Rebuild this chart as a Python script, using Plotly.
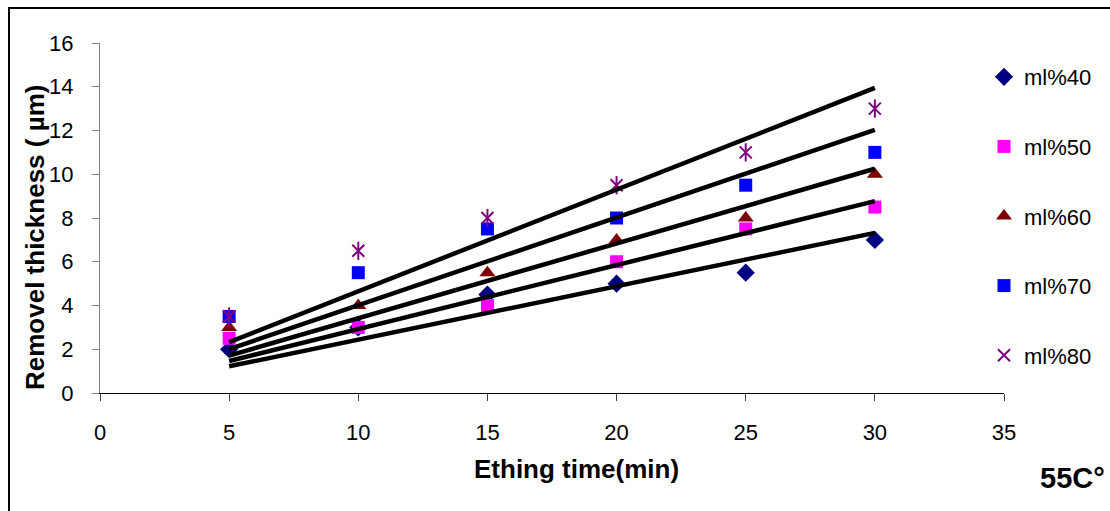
import numpy as np
import plotly.graph_objects as go

# ---- data ----
time_min = [5, 10, 15, 20, 25, 30]
ml40 = [2.0, 3.0, 4.5, 5.0, 5.5, 7.0]
ml50 = [2.5, 3.0, 4.0, 6.0, 7.5, 8.5]
ml60 = [3.0, 4.0, 5.5, 7.0, 8.0, 10.0]
ml70 = [3.5, 5.5, 7.5, 8.0, 9.5, 11.0]
ml80 = [3.5, 6.5, 8.0, 9.5, 11.0, 13.0]
series_names = ["ml%40", "ml%50", "ml%60", "ml%70", "ml%80"]
x_ticks = [0, 5, 10, 15, 20, 25, 30, 35]
y_ticks = [0, 2, 4, 6, 8, 10, 12, 14, 16]

# ---- layout geometry (px) ----
W, H = 1110, 511
ML, MR, MT, MB = 100, 106, 43, 118
PW, PH = W - ML - MR, H - MT - MB


def px_x(p):
    return (p - ML) / PW


def px_y(p):
    return (H - MB - p) / PH


FONT = "Arial, Liberation Sans, sans-serif"

styles = [
    dict(symbol="diamond", color="#000080", size=14),
    dict(symbol="square", color="#FF00FF", size=13),
    dict(symbol="triangle-up", color="#800000", size=14),
    dict(symbol="square", color="#0000FF", size=13),
    dict(symbol="x-thin-open", color="#800080", size=12),
]
data = [ml40, ml50, ml60, ml70, ml80]

fig = go.Figure()

for name, ys, st in zip(series_names, data, styles):
    mk = dict(symbol=st["symbol"], size=st["size"], color=st["color"])
    if st["symbol"].endswith("open"):
        mk["line"] = dict(color=st["color"], width=2)
    else:
        mk["line"] = dict(width=0)
    fig.add_trace(go.Scatter(x=time_min, y=ys, mode="markers", name=name,
                             legendgroup=name, marker=mk))
    if st["symbol"] == "x-thin-open":
        fig.add_trace(go.Scatter(x=time_min, y=ys, mode="markers", name=name,
                                 legendgroup=name, showlegend=False,
                                 marker=dict(symbol="line-ns-open", size=13,
                                             color=st["color"],
                                             line=dict(color=st["color"], width=2))))

# linear trendlines through origin (Excel "set intercept = 0")
xt = np.array(time_min, dtype=float)
for name, ys in zip(series_names, data):
    yv = np.array(ys, dtype=float)
    slope = float(np.sum(xt * yv) / np.sum(xt * xt))
    xs = [xt.min(), xt.max()]
    fig.add_trace(go.Scatter(x=xs, y=[slope * v for v in xs], mode="lines",
                             line=dict(color="black", width=4.5),
                             showlegend=False, hoverinfo="skip"))

fig.update_layout(
    width=W, height=H,
    margin=dict(l=ML, r=MR, t=MT, b=MB, pad=0, autoexpand=False),
    paper_bgcolor="white", plot_bgcolor="white",
    font=dict(family=FONT, color="black", size=22),
    showlegend=True,
    legend=dict(x=984 / W, y=1 - 56 / H, xref="container", yref="container",
                xanchor="left", yanchor="top",
                font=dict(family=FONT, size=22, color="black"),
                tracegroupgap=38, bgcolor="rgba(0,0,0,0)",
                itemwidth=30, maxheight=480),
    xaxis=dict(range=[0, 35], tickvals=x_ticks, ticktext=[str(v) for v in x_ticks],
               showline=True, linecolor="black", linewidth=1,
               ticks="outside", ticklen=7, tickcolor="#404040", tickwidth=1,
               showgrid=False, zeroline=False, ticklabelstandoff=13,
               tickfont=dict(size=22)),
    yaxis=dict(range=[0, 16], tickvals=y_ticks, ticktext=[str(v) for v in y_ticks],
               showline=True, linecolor="#808080", linewidth=1,
               ticks="outside", ticklen=7, tickcolor="#808080", tickwidth=1,
               showgrid=False, zeroline=False, ticklabelstandoff=14,
               tickfont=dict(size=22)),
    annotations=[
        dict(text="<b>Removel thickness ( µm)</b>", x=px_x(35), y=px_y(238),
             xref="paper", yref="paper", xanchor="center", yanchor="middle",
             textangle=-90, showarrow=False, font=dict(size=26)),
        dict(text="<b>Ething time(min)</b>", x=px_x(576), y=px_y(469),
             xref="paper", yref="paper", xanchor="center", yanchor="middle",
             showarrow=False, font=dict(size=26)),
        dict(text="<b>55C°</b>", x=px_x(1072), y=px_y(478),
             xref="paper", yref="paper", xanchor="center", yanchor="middle",
             showarrow=False, font=dict(size=29)),
    ],
    shapes=[
        dict(type="rect", xref="paper", yref="paper",
             x0=px_x(9), x1=px_x(1130), y0=px_y(530), y1=px_y(8),
             line=dict(color="black", width=2), fillcolor="rgba(0,0,0,0)",
             layer="below"),
    ],
)

fig.write_html("out.html", config={"displayModeBar": False},
               post_script="document.body.style.margin='0';document.body.style.overflow='hidden';")
